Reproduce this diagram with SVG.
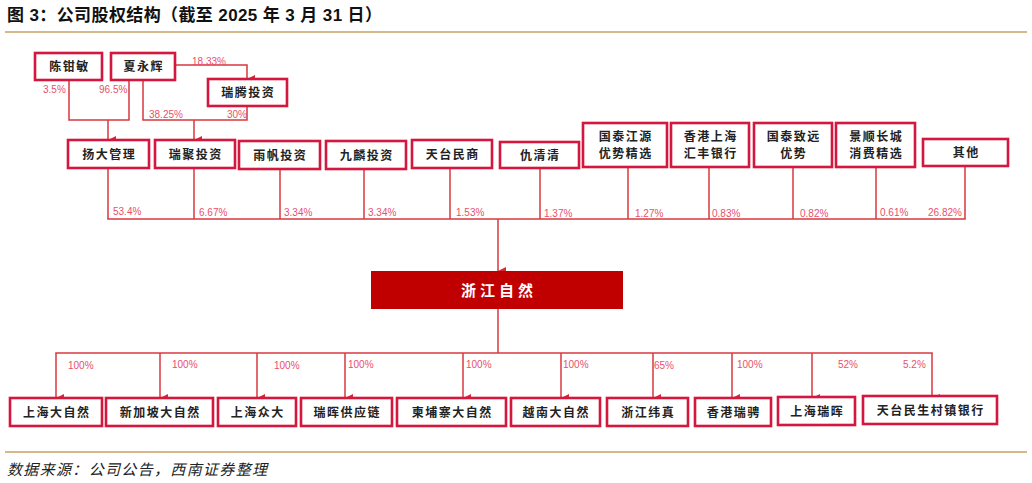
<svg xmlns="http://www.w3.org/2000/svg" width="1032" height="483" viewBox="0 0 1032 483">
<defs>
<marker id="arr" viewBox="0 0 8 8" refX="4" refY="8" markerWidth="8" markerHeight="8" markerUnits="userSpaceOnUse" orient="auto-start-reverse">
<path d="M0,0 L8,0 L4,8 Z" fill="#D42A35"/>
</marker>
<style>
.box{fill:#fff;stroke:#D3173E;stroke-width:2.6}
.bt{font-family:"Noto Sans CJK SC","Noto Sans CJK TC",sans-serif;font-size:12px;font-weight:bold;fill:#222;text-anchor:middle;letter-spacing:1.5px}
.ln{fill:none;stroke:#D8383E;stroke-width:1.5}
.ar{marker-end:url(#arr)}
.pc{font-family:"Liberation Sans",Arial,sans-serif;font-size:10px;fill:#E8506A}
.gold{stroke:#C9A064;stroke-width:1.6}
</style>
</defs>
<rect width="1032" height="483" fill="#fff"/>
<text x="7" y="21" font-family="Liberation Sans,'Noto Sans CJK SC',sans-serif" font-size="17" font-weight="bold" fill="#111" textLength="375" lengthAdjust="spacing">图 3：公司股权结构（截至 2025 年 3 月 31 日）</text>
<line class="gold" x1="5" y1="32" x2="1027" y2="32"/>

<g id="connectors">
<polyline class="ln" points="69,80 69,120 129,120 129,80"/>
<polyline class="ln ar" points="108,120 108,140"/>
<polyline class="ln ar" points="175,65 247,65 247,79"/>
<polyline class="ln" points="143,80 143,120 247,120 247,106"/>
<polyline class="ln ar" points="194,120 194,140"/>
<line class="ln" x1="108" y1="168" x2="108" y2="219"/>
<line class="ln" x1="194" y1="168" x2="194" y2="219"/>
<line class="ln" x1="280" y1="168" x2="280" y2="219"/>
<line class="ln" x1="364" y1="168" x2="364" y2="219"/>
<line class="ln" x1="450" y1="168" x2="450" y2="219"/>
<line class="ln" x1="540" y1="168" x2="540" y2="219"/>
<line class="ln" x1="628" y1="167" x2="628" y2="219"/>
<line class="ln" x1="709" y1="167" x2="709" y2="219"/>
<line class="ln" x1="793" y1="167" x2="793" y2="219"/>
<line class="ln" x1="876" y1="167" x2="876" y2="219"/>
<line class="ln" x1="965" y1="166" x2="965" y2="219"/>
<line class="ln" x1="107.3" y1="219" x2="965.7" y2="219"/>
<polyline class="ln ar" points="498,219 498,271"/>
<line class="ln" x1="498" y1="309" x2="498" y2="353"/>
<line class="ln" x1="55.3" y1="353" x2="932.7" y2="353"/>
<polyline class="ln ar" points="56,353 56,398"/>
<polyline class="ln ar" points="160,353 160,398"/>
<polyline class="ln ar" points="257,353 257,398"/>
<polyline class="ln ar" points="345,353 345,398"/>
<polyline class="ln ar" points="463,353 463,398"/>
<polyline class="ln ar" points="561,353 561,398"/>
<polyline class="ln ar" points="653,353 653,398"/>
<polyline class="ln ar" points="732,353 732,398"/>
<polyline class="ln ar" points="812,353 812,398"/>
<polyline class="ln ar" points="932,353 932,398"/>
<text class="pc" x="192" y="65">18.33%</text>
<text class="pc" x="43" y="93">3.5%</text>
<text class="pc" x="99" y="93">96.5%</text>
<text class="pc" x="149" y="118">38.25%</text>
<text class="pc" x="227" y="118">30%</text>
<text class="pc" x="113" y="215">53.4%</text>
<text class="pc" x="199" y="216">6.67%</text>
<text class="pc" x="284" y="216">3.34%</text>
<text class="pc" x="368" y="216">3.34%</text>
<text class="pc" x="456" y="216">1.53%</text>
<text class="pc" x="544" y="217">1.37%</text>
<text class="pc" x="635" y="217">1.27%</text>
<text class="pc" x="712" y="217">0.83%</text>
<text class="pc" x="800" y="217">0.82%</text>
<text class="pc" x="880" y="216">0.61%</text>
<text class="pc" x="928" y="216">26.82%</text>
<text class="pc" x="68" y="369">100%</text>
<text class="pc" x="172" y="368">100%</text>
<text class="pc" x="274" y="369">100%</text>
<text class="pc" x="348" y="368">100%</text>
<text class="pc" x="466" y="368">100%</text>
<text class="pc" x="563" y="368">100%</text>
<text class="pc" x="654" y="369">65%</text>
<text class="pc" x="737" y="368">100%</text>
<text class="pc" x="838" y="368">52%</text>
<text class="pc" x="903" y="368">5.2%</text>
</g>

<g id="n-chen"><rect class="box" x="35" y="53" width="67" height="27"/><text class="bt" x="69.5" y="71">陈钳敏</text></g>
<g id="n-xia"><rect class="box" x="111" y="53" width="64" height="27"/><text class="bt" x="143.8" y="71">夏永辉</text></g>
<g id="n-ruiteng"><rect class="box" x="208" y="79" width="79" height="27"/><text class="bt" x="248.3" y="97">瑞腾投资</text></g>

<g id="n-yangda"><rect class="box" x="68" y="140" width="81" height="28"/><text class="bt" x="109.3" y="158.5">扬大管理</text></g>
<g id="n-ruiju"><rect class="box" x="155" y="140" width="80" height="28"/><text class="bt" x="195.8" y="158.5">瑞聚投资</text></g>
<g id="n-yufan"><rect class="box" x="239" y="141" width="81" height="28"/><text class="bt" x="280.3" y="159.5">雨帆投资</text></g>
<g id="n-jiulin"><rect class="box" x="326" y="141" width="80" height="28"/><text class="bt" x="366.8" y="159.5">九麟投资</text></g>
<g id="n-tiantai"><rect class="box" x="412" y="140" width="80" height="28"/><text class="bt" x="452.8" y="158.5">天台民商</text></g>
<g id="n-qiu"><rect class="box" x="500" y="142" width="79" height="26"/><text class="bt" x="540.3" y="159.5">仇清清</text></g>
<g id="n-gtjy"><rect class="box" x="583" y="123" width="84" height="44"/><text class="bt" x="625.8" y="141">国泰江源</text><text class="bt" x="625.8" y="158">优势精选</text></g>
<g id="n-hsbc"><rect class="box" x="671" y="123" width="78" height="44"/><text class="bt" x="710.8" y="141">香港上海</text><text class="bt" x="710.8" y="158">汇丰银行</text></g>
<g id="n-gtzy"><rect class="box" x="754" y="123" width="78" height="44"/><text class="bt" x="793.8" y="141">国泰致远</text><text class="bt" x="793.8" y="158">优势</text></g>
<g id="n-jscc"><rect class="box" x="836" y="123" width="79" height="44"/><text class="bt" x="876.3" y="141">景顺长城</text><text class="bt" x="876.3" y="158">消费精选</text></g>
<g id="n-other"><rect class="box" x="923" y="139" width="85" height="27"/><text class="bt" x="966.3" y="157">其他</text></g>

<g id="n-main"><rect x="371" y="271" width="252" height="38" fill="#C00000"/><text x="499" y="295.5" font-family="'Noto Sans CJK SC',sans-serif" font-size="15" font-weight="bold" fill="#fff" text-anchor="middle" letter-spacing="4">浙江自然</text></g>

<g id="b1"><rect class="box" x="10" y="398" width="92" height="28"/><text class="bt" x="56.8" y="416.5">上海大自然</text></g>
<g id="b2"><rect class="box" x="106" y="398" width="107" height="28"/><text class="bt" x="160.3" y="416.5">新加坡大自然</text></g>
<g id="b3"><rect class="box" x="218" y="398" width="78" height="28"/><text class="bt" x="257.8" y="417">上海众大</text></g>
<g id="b4"><rect class="box" x="301" y="398" width="91" height="28"/><text class="bt" x="347.3" y="416.5">瑞晖供应链</text></g>
<g id="b5"><rect class="box" x="397" y="398" width="109" height="28"/><text class="bt" x="452.3" y="416.5">柬埔寨大自然</text></g>
<g id="b6"><rect class="box" x="511" y="398" width="89" height="28"/><text class="bt" x="556.3" y="416.5">越南大自然</text></g>
<g id="b7"><rect class="box" x="607" y="398" width="81" height="28"/><text class="bt" x="648.3" y="416.5">浙江纬真</text></g>
<g id="b8"><rect class="box" x="695" y="398" width="76" height="28"/><text class="bt" x="733.8" y="417">香港瑞骋</text></g>
<g id="b9"><rect class="box" x="778" y="397" width="77" height="28"/><text class="bt" x="817.3" y="415.5">上海瑞晖</text></g>
<g id="b10"><rect class="box" x="863" y="396" width="134" height="28"/><text class="bt" x="930.8" y="414.5">天台民生村镇银行</text></g>

<line class="gold" x1="5" y1="452" x2="1027" y2="452"/>
<text x="7" y="475" font-family="'Noto Sans CJK SC',sans-serif" font-size="15" font-style="italic" fill="#222" textLength="260" lengthAdjust="spacing">数据来源：公司公告，西南证券整理</text>
</svg>
